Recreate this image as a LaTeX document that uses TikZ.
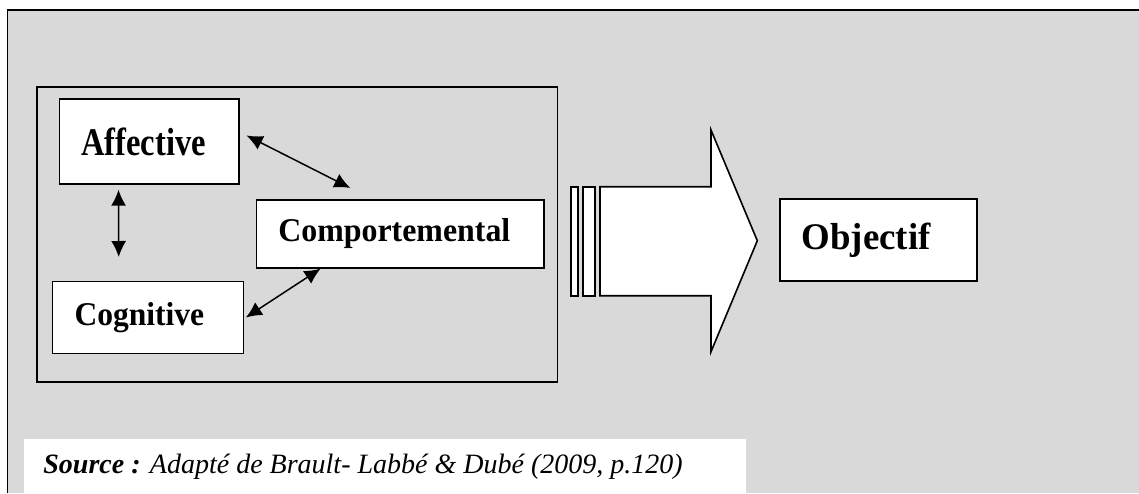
\documentclass[tikz,border=0pt]{standalone}
\usepackage{graphicx}
\usepackage{fontspec}
\setmainfont{Liberation Serif}
\usetikzlibrary{arrows.meta}
\begin{document}
\begin{tikzpicture}[
  x=0.5pt, y=-0.5pt,
  bloc/.style={draw, fill=white, line width=0.8pt, anchor=north west, align=left, inner xsep=11pt},
  lien/.style={line width=0.75pt, {Latex[length=8pt,width=7.5pt]}-{Latex[length=8pt,width=7.5pt]}},
  bande/.style={draw, fill=white, line width=0.8pt}
]
\useasboundingbox (0,0) rectangle (1139,493);
\fill[black!15] (7.5,10) rectangle (1139,493);
\draw[line width=0.8pt] (7.5,493) -- (7.5,10) -- (1139,10);
\draw[line width=0.7pt] (37,87) rectangle (557.5,382);
\node[bloc, text width=67.75pt, minimum height=42.4pt, font=\bfseries\fontsize{19.6}{21}\selectfont] (aff) at (58.5,98.3) {\scalebox{0.83}[1]{Affective}};
\node[bloc, text width=121.9pt, minimum height=34pt, font=\bfseries\fontsize{16.6}{18}\selectfont] (comp) at (255.6,199) {\scalebox{0.96}[1]{Comportemental}};
\node[bloc, text width=73.5pt, minimum height=36pt, font=\bfseries\fontsize{16.6}{18}\selectfont] (cog) at (51.7,280.7) {\scalebox{0.95}[1]{Cognitive}};
\node[bloc, text width=76.5pt, minimum height=41pt, font=\bfseries\fontsize{18.8}{20}\selectfont] (obj) at (779,198) {\scalebox{0.98}[1]{Objectif}};
\draw[lien] ([shift={(7,-6)}]aff.east) -- ([shift={(-50,-11)}]comp.north);
\draw[lien] ([shift={(60,5)}]aff.south west) -- ([shift={(67,-23.7)}]cog.north west);
\draw[lien] ([shift={(1.5,0)}]cog.east) -- ([shift={(65,0)}]comp.south west);
\draw[bande] (571,186.7) rectangle (577.7,295.7);
\draw[bande] (582.7,186.7) rectangle (595,295.7);
\draw[bande] (600,186.7) -- (711,186.7) -- (711,130) -- (757.3,240.7) -- (711,351.7) -- (711,295.7) -- (600,295.7) -- cycle;
\fill[white] (24,439) rectangle (745.7,493);
\node[anchor=base west, inner sep=0pt, font=\fontsize{14}{16}\selectfont\itshape] (src) at (43,473) {\textbf{Source :} Adapté de Brault- Labbé \& Dubé (2009, p.120)};
\end{tikzpicture}
\end{document}
